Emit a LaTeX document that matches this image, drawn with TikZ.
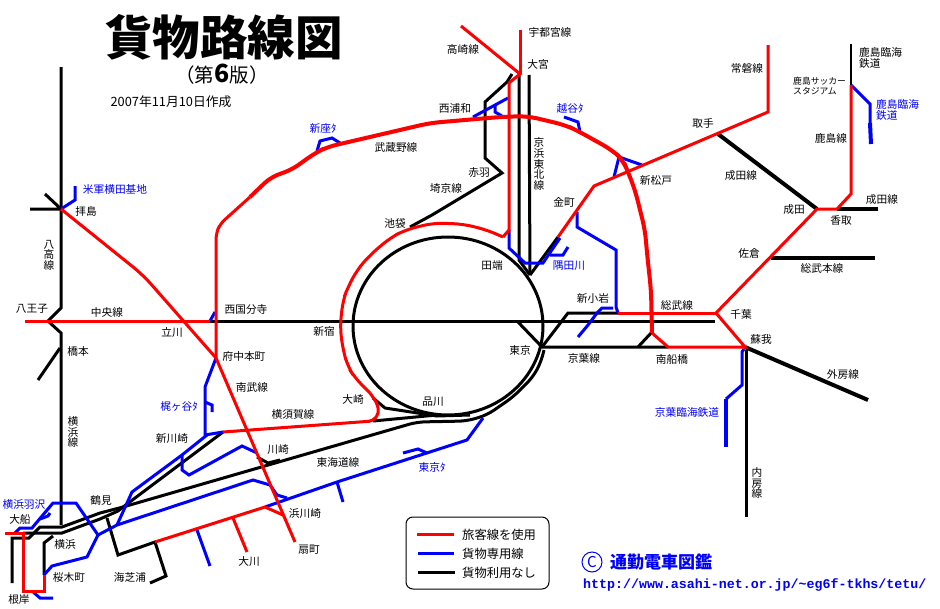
\documentclass[tikz,border=0pt]{standalone}
\usepackage{fontspec}
\setmainfont{Noto Sans CJK JP}
\setmonofont{Liberation Mono}
\usepackage{xcolor}
\usepackage{tikz}
\usetikzlibrary{positioning, calc}

\definecolor{linered}{RGB}{255,0,0}
\definecolor{lineblue}{RGB}{0,0,255}

\begin{document}
\begin{tikzpicture}[
	x=1pt, y=-1pt,
	redline/.style={draw=linered, line width=3pt},
	redthick/.style={draw=linered, line width=4pt},
	blueline/.style={draw=lineblue, line width=3pt},
	bluethick/.style={draw=lineblue, line width=4pt},
	blackline/.style={draw=black, line width=3pt},
	blackthick/.style={draw=black, line width=4pt},
	lbl/.style={inner sep=0pt, align=center, font=\fontsize{10.7}{11}\selectfont},
	lblv/.style={lbl, font=\fontsize{10.7}{10.6}\selectfont},
	lbll/.style={inner sep=0pt, align=left, anchor=west, font=\fontsize{10.7}{10.2}\selectfont},
	bluelbl/.style={lbl, text=lineblue},
	keytext/.style={inner sep=0pt, anchor=west, font=\fontsize{12.3}{13}\selectfont}
	]
	\useasboundingbox (0,0) rectangle (940,608);

	% Junctions
	\coordinate (haijima) at (61,209);
	\coordinate (fuchu) at (216,358);
	\coordinate (nishikokubunji) at (210,321);
	\coordinate (hachioji) at (48,321);
	\coordinate (omiya) at (520,74);
	\coordinate (tabata) at (530,275);
	\coordinate (kanamachi) at (558,237);
	\coordinate (tokyo) at (542,347);
	\coordinate (shinmatsudo) at (628,172);
	\coordinate (toride) at (718,134);
	\coordinate (narita) at (817,209);
	\coordinate (katori) at (837,209);
	\coordinate (kashima) at (851,85);
	\coordinate (sakura) at (771,258);
	\coordinate (chiba) at (716,313);
	\coordinate (soga) at (745,347);
	\coordinate (minamifunabashi) at (668,347);
	\coordinate (shinkoiwa) at (618,313);
	\coordinate (osaki) at (373,421);
	\coordinate (shinkawasaki) at (223,432);
	\coordinate (hamakawasaki) at (265,507);
	\coordinate (ogishima) at (155,542);
	\coordinate (tsurumi) at (117,525);
	\coordinate (haneyoko) at (98,535);
	\coordinate (sakuragi) at (44,575);
	\coordinate (ofuna) at (23,533);

	% Black lines
	\draw[blackline] (448,326) ellipse [x radius=95, y radius=89];
	\draw[blackline] (61,67) -- (61,308) -- (hachioji) -- (61,333) -- (61,525);
	\draw[blackline] (60,348) -- (38,380);
	\draw[blackline] (30,209) -- (haijima) -- (45,194);
	\draw[blackline] (nishikokubunji) -- (715,321);
	\draw[blackline] (519,75) -- (519,260) -- (tabata);
	\draw[blackline] (529,75) -- (tabata);
	\draw[blackline] (512,74) -- (507,82) -- (485,102) -- (485,158) -- (502,173) -- (432,215) -- (410,227);
	\draw[blackline] (tabata) -- (kanamachi);
	\draw[blackthick] (toride) -- (narita);
	\draw[blackthick] (katori) -- (878,209);
	\draw[blackthick] (sakura) -- (875,258);
	\draw[line width=1.5pt] (kashima) -- (851,44);
	\draw[blackline] (shinkoiwa) -- (568,313) -- (tokyo);
	\draw[blackline] (518,322) -- (tokyo) -- (minamifunabashi);
	\draw[blackline] (638,347) -- (652,332);
	\draw[blackthick] (soga) -- (868,400);
	\draw[blackline] (746,350) -- (746,517);
	\draw[blackline] (373,398) -- (385,408) -- (437,416) -- (470,415);
	\draw[blackline] (osaki) -- (437,415);
	\draw[blackline, rounded corners=8pt] (544,350) -- (541,362) -- (533,377) -- (513,397) -- (487,415) -- (467,421) -- (417,422) -- (123,507);
	\draw[blackline] (123,507) -- (100,513) -- (62,527) -- (40,527) -- (29,538) -- (12,538) -- (12,583);
	\draw[blackline] (ofuna) -- (62,533) -- (100,519) -- (118,511) -- (127,504) -- (shinkawasaki);
	\draw[blackline] (53,536) -- (sakuragi |- 0,543) -- (sakuragi);
	\draw[blackline] (107,518) -- (118,555) -- (ogishima) -- (166,576) -- (150,583);
	\draw[blackline] (257,457) -- (268,463) -- (280,460);

	% Blue lines
	\draw[blueline] (haijima) -- (75,200) -- (75,186);
	\draw[blueline] (317,151) -- (320,141) -- (332,138) -- (340,143);
	\draw[blueline] (473,117) -- (508,98);
	\draw[blueline] (495,106) -- (495,112) -- (502,116);
	\draw[blueline] (564,117) -- (578,122) -- (580,132);
	\draw[blueline] (614,177) -- (619,157) -- (642,165);
	\draw[blueline] (509,230) -- (509,248) -- (525,263) -- (543,263) -- (560,238);
	\draw[blueline] (550,255) -- (563,255) -- (568,247);
	\draw[blueline] (577,212) -- (577,227) -- (616,250) -- (616,307) -- (shinkoiwa);
	\draw[blueline] (613,308) -- (602,308) -- (597,313) -- (588,325) -- (578,337);
	\draw[blueline] (kashima) -- (870,104) -- (870,123);
	\draw[bluethick] (870,123) -- (871,144);
	\draw[blueline] (nishikokubunji) -- (215,312);
	\draw[blueline] (744,349) -- (742,352) -- (742,385) -- (726,399);
	\draw[bluethick] (726,399) -- (726,447);
	\draw[blueline] (fuchu) -- (205,387) -- (205,435) -- (shinkawasaki);
	\draw[blueline] (205,402) -- (212,405) -- (212,412);
	\draw[blueline] (207,435) -- (182,455) -- (132,492) -- (tsurumi);
	\draw[blueline] (182,455) -- (182,470) -- (189,475) -- (242,446) -- (257,453);
	\draw[blueline] (haneyoko) -- (tsurumi) -- (253,480) -- (270,485) -- (277,495) -- (287,498);
	\draw[blueline] (hamakawasaki) -- (337,482) -- (467,440) -- (483,418);
	\draw[blueline] (337,482) -- (343,502);
	\draw[blueline] (403,453) -- (418,449) -- (427,453);
	\draw[blueline] (197,530) -- (210,566);
	\draw[blueline] (15,533) -- (20,528) -- (32,528) -- (53,503) -- (76,503) -- (haneyoko) -- (87,557) -- (52,566) -- (sakuragi);
	\draw[blueline] (40,519) -- (48,516) -- (50,513);
	\draw[blueline] (32,591) -- (40,598) -- (53,598);

	% Red lines
	\draw[redline] (25,321) -- (nishikokubunji);
	\draw[redline, rounded corners=12pt] (haijima) -- (143,275) -- (165,300) -- (fuchu);
	\draw[redline] (fuchu) -- (295,542);
	\draw[redline, rounded corners=6pt] (fuchu) -- (216,234) -- (220,224) -- (250,197);
	\draw[redthick, rounded corners=10pt] (250,197) -- (272,176) -- (290,171) -- (315,153) -- (327,147) -- (430,123) -- (500,117) -- (527,116) -- (565,125) -- (578,131) -- (612,150) -- (623,160) -- (shinmatsudo) -- (635,190) -- (645,230) -- (647,253) -- (651,290) -- (652,333);
	\draw[redline] (652,333) -- (minamifunabashi) -- (soga) -- (chiba) -- (narita) -- (katori) -- (851,194) -- (kashima);
	\draw[redline] (shinkoiwa) -- (chiba);
	\draw[redline] (768,45) -- (768,112) -- (594,186) -- (kanamachi);
	\draw[redline] (461,26) -- (omiya) -- (509,83) -- (509,230) -- (503,237);
	\draw[redline, rounded corners=10pt] (503,237) -- (487,230) -- (463,224) -- (433,223) -- (405,230) -- (390,238) -- (370,255) -- (357,270) -- (348,287) -- (343,300) -- (340,327) -- (343,350) -- (348,367) -- (355,378) -- (370,393);
	\draw[redline, rounded corners=4pt] (370,393) -- (377,403) -- (379,413) -- (osaki) -- (shinkawasaki);
	\draw[redline] (520,30) -- (omiya);
	\draw[redline] (ogishima) -- (hamakawasaki) -- (283,515);
	\draw[redline] (233,518) -- (247,552);
	\draw[redline] (5,533) -- (ofuna) -- (23,591) -- (44,591) -- (sakuragi);

	% Title
	\node[inner sep=0pt, font=\fontsize{47.5}{48}\selectfont\bfseries] (title) at (224,37) {貨物路線図};
	\node[inner sep=0pt, font=\fontsize{19.5}{20}\selectfont] (edition) at (222,74) {（第{\fontsize{25}{25}\selectfont\bfseries 6}版）};
	\node[inner sep=0pt, font=\fontsize{12.8}{13}\selectfont] (date) at (171,102) {2007年11月10日作成};

	% Labels
	\node[lbl] (l_uts) at (550,32) {宇都宮線};
	\node[lbl] (l_tak) at (463,49) {高崎線};
	\node[lbl] (l_omi) at (538,64) {大宮};
	\node[lbl] (l_job) at (747,68) {常磐線};
	\node[lbl] (l_nur) at (455,108) {西浦和};
	\node[bluelbl] (l_kos) at (570,108) {越谷ﾀ};
	\node[lbl] (l_tor) at (703,123) {取手};
	\node[bluelbl] (l_nii) at (323,128) {新座ﾀ};
	\node[lbl] (l_mus) at (396,147) {武蔵野線};
	\node[lblv] (l_keh) at (539,164) {京\\浜\\東\\北\\線};
	\node[lbl] (l_aka) at (479,172) {赤羽};
	\node[lbl] (l_sms) at (656,180) {新松戸};
	\node[lbl] (l_nrs) at (741,175) {成田線};
	\node[lbl] (l_sai) at (446,188) {埼京線};
	\node[bluelbl] (l_yok) at (115,189) {米軍横田基地};
	\node[lbl] (l_hai) at (86,211) {拝島};
	\node[lbl] (l_kan) at (564,202) {金町};
	\node[lbl] (l_ike) at (395,223) {池袋};
	\node[lbl] (l_nar) at (794,209) {成田};
	\node[lbl] (l_nrt) at (882,199) {成田線};
	\node[lbl] (l_kat) at (841,220) {香取};
	\node[lbl] (l_kas) at (831,138) {鹿島線};
	\node[lbll] (l_krt) at (859,58) {鹿島臨海\\鉄道};
	\node[lbll, font=\fontsize{8.8}{10.2}\selectfont] (l_kst) at (793,86) {鹿島サッカー\\スタジアム};
	\node[lbll, text=lineblue] (l_krb) at (876,110) {鹿島臨海\\鉄道};
	\node[lblv] (l_hac) at (49,255) {八\\高\\線};
	\node[lbl] (l_sak) at (749,253) {佐倉};
	\node[lbl] (l_sbh) at (822,268) {総武本線};
	\node[lbl] (l_tab) at (492,265) {田端};
	\node[bluelbl] (l_sum) at (569,266) {隅田川};
	\node[lbl] (l_ski) at (593,298) {新小岩};
	\node[lbl] (l_sob) at (677,305) {総武線};
	\node[lbl] (l_hoj) at (32,309) {八王子};
	\node[lbl] (l_chu) at (107,312) {中央線};
	\node[lbl] (l_nks) at (246,309) {西国分寺};
	\node[lbl] (l_chb) at (741,314) {千葉};
	\node[lbl] (l_tac) at (172,332) {立川};
	\node[lbl] (l_shj) at (324,331) {新宿};
	\node[lbl] (l_sog) at (761,339) {蘇我};
	\node[lbl] (l_hsm) at (78,351) {橋本};
	\node[lbl] (l_fch) at (244,356) {府中本町};
	\node[lbl] (l_tky) at (520,350) {東京};
	\node[lbl] (l_kyo) at (584,358) {京葉線};
	\node[lbl] (l_mfb) at (672,359) {南船橋};
	\node[lbl] (l_nbu) at (252,387) {南武線};
	\node[lbl] (l_sbo) at (843,374) {外房線};
	\node[lbl] (l_osa) at (353,399) {大崎};
	\node[lbl] (l_shn) at (433,402) {品川};
	\node[bluelbl] (l_kaj) at (179,406) {梶ヶ谷ﾀ};
	\node[lbl] (l_ysk) at (293,414) {横須賀線};
	\node[bluelbl] (l_krk) at (687,412) {京葉臨海鉄道};
	\node[lblv] (l_yhm) at (73,432) {横\\浜\\線};
	\node[lbl] (l_nkw) at (172,438) {新川崎};
	\node[lbl] (l_kwa) at (278,449) {川崎};
	\node[lbl] (l_tok) at (338,462) {東海道線};
	\node[bluelbl] (l_tkt) at (432,467) {東京ﾀ};
	\node[lblv] (l_ubo) at (757,483) {内\\房\\線};
	\node[lbl] (l_tsu) at (101,500) {鶴見};
	\node[bluelbl] (l_yhw) at (24,504) {横浜羽沢};
	\node[lbl] (l_hkw) at (305,513) {浜川崎};
	\node[lbl] (l_ofn) at (20,519) {大船};
	\node[lbl] (l_ykh) at (65,544) {横浜};
	\node[lbl] (l_ogi) at (309,550) {扇町};
	\node[lbl] (l_oka) at (249,561) {大川};
	\node[lbl] (l_skg) at (69,577) {桜木町};
	\node[lbl] (l_ksh) at (130,577) {海芝浦};
	\node[lbl] (l_neg) at (19,599) {根岸};

	% Key
	\node[draw, line width=1pt, rounded corners=7pt, minimum width=143pt, minimum height=72pt, inner sep=0pt] (keybox) at (477.5,553) {};
	\coordinate (keyred) at (417,534);
	\coordinate (keyblue) at (418,553);
	\coordinate (keyblack) at (418,572);
	\node[keytext] (keyredtext) at (462,535) {旅客線を使用};
	\node[keytext] (keybluetext) at (462,554) {貨物専用線};
	\node[keytext] (keyblacktext) at (462,573) {貨物利用なし};
	\draw[redline] (keyred) -- (454,534);
	\draw[blueline] (keyblue) -- (454,553);
	\draw[blackline] (keyblack) -- (455,572);

	% Credit
	\node[circle, draw=lineblue, line width=1pt, inner sep=0pt, minimum size=20pt, text=lineblue, font=\fontsize{15}{15}\selectfont] (copymark) at (592,562) {C};
	\node[inner sep=0pt, anchor=west, text=lineblue, font=\fontsize{17}{18}\selectfont\bfseries] (credit) at (610,562) {通勤電車図鑑};
	\node[inner sep=0pt, anchor=west, text=lineblue, font=\fontsize{13.3}{14}\selectfont\ttfamily\bfseries] (url) at (583,585) {http://www.asahi-net.or.jp/\char`\~eg6f-tkhs/tetu/};
\end{tikzpicture}
\end{document}
